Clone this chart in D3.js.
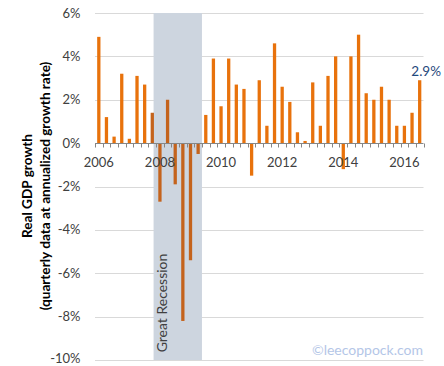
<!DOCTYPE html>
<html><head><meta charset="utf-8">
<script src="https://cdn.jsdelivr.net/npm/d3@7"></script>
<style>
body{margin:0;background:#fff;}
svg{display:block;font-family:Lato,"Open Sans",sans-serif;}
</style></head>
<body><svg id="c" width="444" height="366"></svg>
<script>
const quarters = [];
for (let y = 2006; y <= 2016; y++) for (let q = 1; q <= 4; q++) if (!(y === 2016 && q === 4)) quarters.push(y + "Q" + q);
const growth = [4.9,1.2,0.3,3.2, 0.2,3.1,2.7,1.4, -2.7,2.0,-1.9,-8.2, -5.4,-0.5,1.3,3.9,
  1.7,3.9,2.7,2.5, -1.5,2.9,0.8,4.6, 2.6,1.9,0.5,0.1, 2.8,0.8,3.1,4.0,
  -1.2,4.0,5.0,2.3, 2.0,2.6,2.0,0.8, 0.8,1.4,2.9];
const yTicks = [6,4,2,0,-2,-4,-6,-8,-10];
const yearLabels = ["2006","2008","2010","2012","2014","2016"];
const recession = [2007.917, 2009.5]; // Dec 2007 – Jun 2009, in years
const lastLabel = "2.9%";

const svg = d3.select("#c");
const W = 444, H = 366;
const L = 95, R = 423.5, T = 13, B = 360;
const x = d3.scaleBand().domain(quarters).range([L, R]).paddingInner(0.57).paddingOuter(0.285);
const t = d3.scaleLinear().domain([2006, 2016.75]).range([L, R]);
const y = d3.scaleLinear().domain([-10, 6]).range([B, T]);
const inRec = q => { const v = +q.slice(0,4) + (+q.slice(5)-1)/4; return v + 0.25 > recession[0] && v < recession[1]; };

// gridlines
svg.append("g").selectAll("line").data(yTicks.filter(d => d !== 0)).join("line")
  .attr("x1", L).attr("x2", R).attr("y1", d => Math.round(y(d)) + 0.5).attr("y2", d => Math.round(y(d)) + 0.5)
  .attr("stroke", "#d9d9d9").attr("stroke-width", 1);

// recession shading
svg.append("rect").attr("x", t(recession[0])).attr("width", t(recession[1]) - t(recession[0]))
  .attr("y", y(6)).attr("height", y(-10) - y(6)).attr("fill", "#cdd5df");

// bars
svg.append("g").selectAll("rect").data(quarters).join("rect")
  .attr("x", q => x(q)).attr("width", x.bandwidth())
  .attr("y", (q, i) => y(Math.max(0, growth[i])))
  .attr("height", (q, i) => Math.abs(y(growth[i]) - y(0)))
  .attr("fill", q => inRec(q) ? "#c4631c" : "#e8720c");

// y tick labels
svg.append("g").selectAll("text").data(yTicks).join("text")
  .attr("x", 80.5).attr("y", d => Math.min(y(d) + 4.6, H - 3.2)).attr("text-anchor", "end")
  .attr("font-size", 13).attr("fill", "#404040").text(d => d + "%");

// x axis
const y0 = Math.round(y(0)) + 0.5;
svg.append("line").attr("x1", L).attr("x2", R).attr("y1", y0).attr("y2", y0).attr("stroke", "#868686");
svg.append("g").selectAll("line").data(d3.range(quarters.length + 1)).join("line")
  .attr("x1", i => Math.round(L + i * x.step()) + 0.5).attr("x2", i => Math.round(L + i * x.step()) + 0.5)
  .attr("y1", y0).attr("y2", y0 + 4).attr("stroke", "#868686");
svg.append("g").selectAll("text").data(yearLabels).join("text")
  .attr("x", d => x(d + "Q1") + x.bandwidth() / 2).attr("y", 166.5).attr("text-anchor", "middle")
  .attr("font-size", 13).attr("fill", "#404040").text(d => d);

// recession label
svg.append("text").attr("transform", `translate(166.5,${303}) rotate(-90)`).attr("text-anchor", "middle")
  .attr("font-size", 14).attr("fill", "#404040").text("Great Recession");

// y axis title
const yt = svg.append("text").attr("transform", "translate(0,186) rotate(-90)").attr("text-anchor", "middle")
  .attr("font-size", 13.6).attr("font-weight", "bold").attr("fill", "#000");
yt.append("tspan").attr("x", 0).attr("y", 32).text("Real GDP growth");
yt.append("tspan").attr("x", 0).attr("y", 49.5).text("(quarterly data at annualized growth rate)");

// last value label
const lq = quarters[quarters.length - 1];
svg.append("text").attr("x", x(lq) + x.bandwidth() / 2 + 6.5).attr("y", 76).attr("text-anchor", "middle")
  .attr("font-size", 13.5).attr("fill", "#1f497d").text(lastLabel);

// watermark
svg.append("text").attr("x", 423).attr("y", 355).attr("text-anchor", "end")
  .attr("font-size", 14).attr("fill", "#b4c6e7").text("©leecoppock.com");
</script></body></html>
